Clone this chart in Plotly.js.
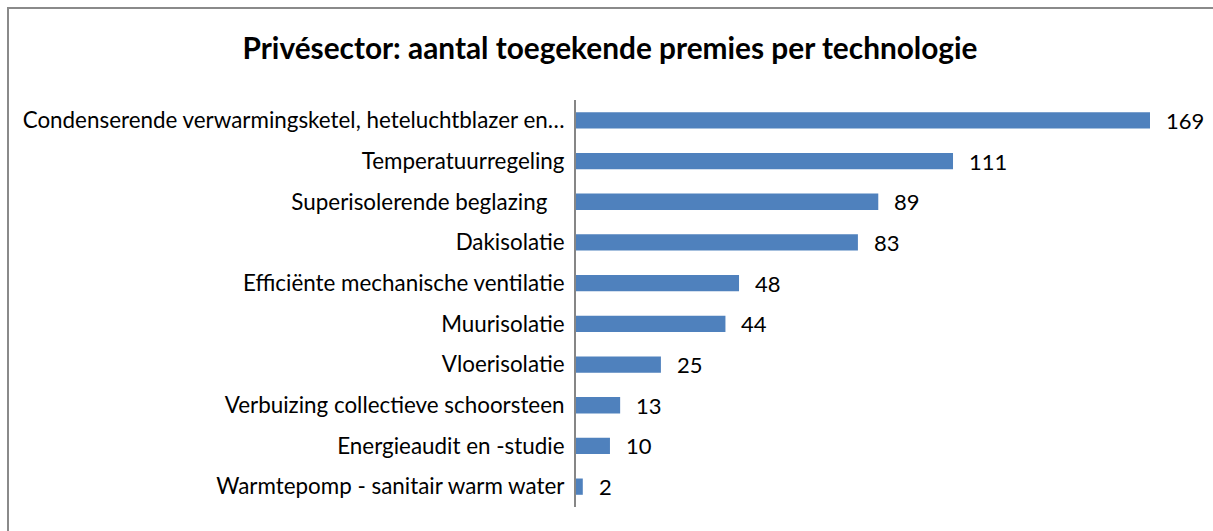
<!DOCTYPE html>
<html><head><meta charset="utf-8">
<script src="https://cdn.plot.ly/plotly-3.0.1.min.js"></script>
<style>
html,body{margin:0;padding:0;background:#fff;overflow:hidden}
#chart{width:1213px;height:531px;position:absolute;left:0;top:0}
#frame{position:absolute;left:7px;top:7px;width:1230px;height:560px;border:2px solid #8a8a8a;pointer-events:none}
</style></head>
<body>
<div id="chart"></div>
<div id="frame"></div>
<script>
const categories = [
  "Condenserende verwarmingsketel, heteluchtblazer en…",
  "Temperatuurregeling",
  "Superisolerende beglazing\u00a0\u00a0\u00a0",
  "Dakisolatie",
  "Efficiënte mechanische ventilatie",
  "Muurisolatie",
  "Vloerisolatie",
  "Verbuizing collectieve schoorsteen",
  "Energieaudit en -studie",
  "Warmtepomp - sanitair warm water"
];
const values = [169, 111, 89, 83, 48, 44, 25, 13, 10, 2];
const titleText = "Privésector: aantal toegekende premies per technologie";

const FONT = "Lato, 'Open Sans', sans-serif";

const trace = {
  type: "bar",
  orientation: "h",
  x: values,
  y: categories,
  marker: {color: "#4F81BD", line: {width: 0}},
  hoverinfo: "none"
};

const annotations = values.map((v, i) => ({
  x: v, y: categories[i], xref: "x", yref: "y",
  text: String(v), showarrow: false, xanchor: "left", yanchor: "middle",
  xshift: 14, yshift: 0,
  font: {family: FONT, size: 22, color: "#000"}
}));

const layout = {
  width: 1213, height: 531,
  margin: {l: 576, r: 33, t: 100, b: 24, pad: 0},
  paper_bgcolor: "#fff", plot_bgcolor: "#fff",
  showlegend: false,
  bargap: 0.6,
  title: {
    text: "<b>" + titleText + "</b>",
    font: {family: FONT, size: 29.8, color: "#000"},
    x: 610/1213, xref: "container", xanchor: "center",
    y: 1 - 49/531, yref: "container", yanchor: "middle"
  },
  xaxis: {
    range: [0, 604/ (574/169)],
    showgrid: false, zeroline: false, showline: false,
    showticklabels: false, ticks: "", fixedrange: true
  },
  yaxis: {
    autorange: "reversed",
    type: "category",
    showgrid: false, zeroline: false,
    showline: true, linecolor: "#868686", linewidth: 2,
    ticks: "", ticklabelstandoff: 5,
    tickfont: {family: FONT, size: 22.4, color: "#000"},
    fixedrange: true
  },
  annotations: annotations
};

Plotly.newPlot("chart", [trace], layout, {displayModeBar: false, staticPlot: true});
</script>
</body></html>
